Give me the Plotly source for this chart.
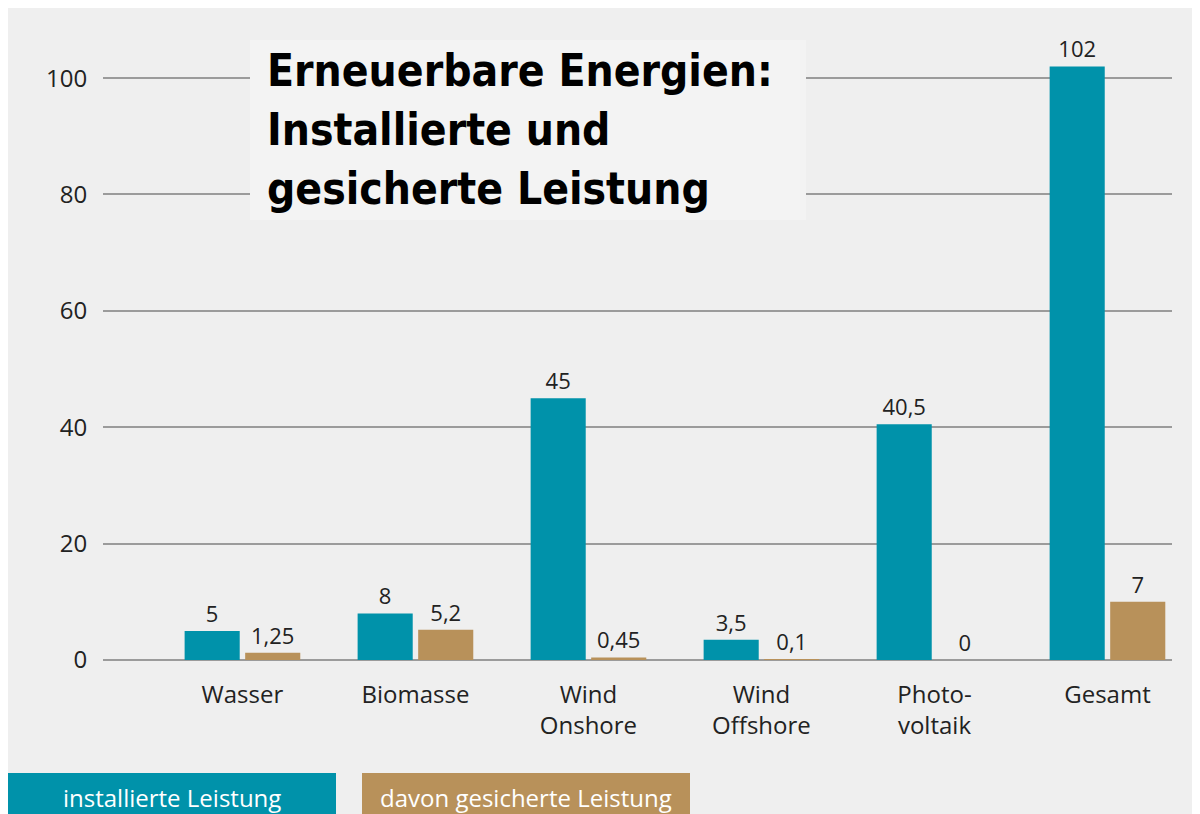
import plotly.graph_objects as go

# ---- data ----
categories = ["Wasser", "Biomasse", "Wind<br>Onshore", "Wind<br>Offshore", "Photo-<br>voltaik", "Gesamt"]
installiert = [5, 8, 45, 3.5, 40.5, 102]
installiert_labels = ["5", "8", "45", "3,5", "40,5", "102"]
gesichert = [1.25, 5.2, 0.45, 0.1, 0, 10]
gesichert_labels = ["1,25", "5,2", "0,45", "0,1", "0", "7"]
y_ticks = [0, 20, 40, 60, 80, 100]
series_names = ["installierte Leistung", "davon gesicherte Leistung"]
title_lines = ["Erneuerbare Energien:", "Installierte und", "gesicherte Leistung"]

TEAL = "#0092aa"
TAN = "#b8915a"
BG = "#efefef"
GRID = "#9b9b9b"
TXT = "#222222"

W, H = 1200, 814
OFF = 8  # page offset of the figure inside the window
L, R, T, B = 95, 36, 41, 162
pw, ph = W - L - R, H - T - B


def px(sx):
    # screen x -> paper x
    return (sx - OFF - L) / pw


def py(sy):
    # screen y -> paper y
    return (H - B - (sy - OFF)) / ph


fig = go.Figure()
fig.add_trace(go.Bar(
    x=list(range(len(categories))), y=installiert, name=series_names[0],
    marker=dict(color=TEAL, line=dict(width=0)),
    text=installiert_labels, textposition="outside", constraintext="none",
    textfont=dict(family="Open Sans", size=22, color=TXT), cliponaxis=False,
    showlegend=False,
))
fig.add_trace(go.Bar(
    x=list(range(len(categories))), y=gesichert, name=series_names[1],
    marker=dict(color=TAN, line=dict(width=0)),
    text=gesichert_labels, textposition="outside", constraintext="none",
    textfont=dict(family="Open Sans", size=22, color=TXT), cliponaxis=False,
    showlegend=False,
))

shapes = [
    # title box
    dict(type="rect", xref="paper", yref="paper", x0=px(250), x1=px(806), y0=py(40), y1=py(220),
         fillcolor="#f3f3f3", line=dict(width=0), layer="above"),
    # legend boxes
    dict(type="rect", xref="paper", yref="paper", x0=px(8), x1=px(336), y0=py(773), y1=py(H + 20),
         fillcolor=TEAL, line=dict(width=0), layer="above"),
    dict(type="rect", xref="paper", yref="paper", x0=px(362), x1=px(690), y0=py(773), y1=py(H + 20),
         fillcolor=TAN, line=dict(width=0), layer="above"),
]

annotations = []
for line, cy in zip(title_lines, [70, 130, 188]):
    annotations.append(dict(
        text=line, xref="paper", yref="paper", x=px(265), y=py(cy),
        xanchor="left", yanchor="middle", showarrow=False,
        font=dict(family="DejaVu Sans Condensed, DejaVu Sans", size=44, color="#000000", weight="bold"),
    ))
annotations.append(dict(text=series_names[0], xref="paper", yref="paper", x=px(172), y=py(797),
                        xanchor="center", yanchor="middle", showarrow=False,
                        font=dict(family="Open Sans", size=24, color="white")))
annotations.append(dict(text=series_names[1], xref="paper", yref="paper", x=px(526), y=py(797),
                        xanchor="center", yanchor="middle", showarrow=False,
                        font=dict(family="Open Sans", size=24, color="white")))

fig.update_layout(
    width=W, height=H,
    margin=dict(l=L, r=R, t=T, b=B, pad=0),
    paper_bgcolor=BG, plot_bgcolor=BG,
    barmode="group", bargap=0.30, bargroupgap=0.09,
    shapes=shapes, annotations=annotations,
    xaxis=dict(
        range=[-0.806, 5.373], tickmode="array", tickvals=list(range(len(categories))),
        ticktext=categories, showgrid=False, zeroline=False, showline=False,
        ticks="outside", ticklen=13, tickcolor="rgba(0,0,0,0)",
        tickfont=dict(family="Open Sans", size=24, color=TXT),
    ),
    yaxis=dict(
        range=[0, 105], tickmode="array", tickvals=y_ticks,
        ticktext=[str(v) for v in y_ticks],
        showgrid=True, gridcolor=GRID, gridwidth=2,
        zeroline=True, zerolinecolor=GRID, zerolinewidth=2, showline=False,
        ticks="outside", ticklen=10, tickcolor="rgba(0,0,0,0)",
        tickfont=dict(family="Open Sans", size=24, color=TXT),
    ),
)

fig.write_html("out.html")
